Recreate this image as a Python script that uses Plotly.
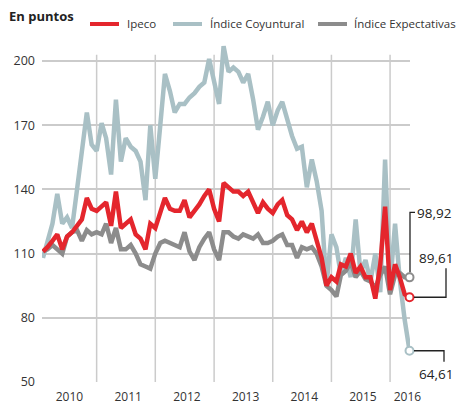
import pandas as pd
import plotly.graph_objects as go

# ---- data (monthly) ----
months = pd.date_range("2010-02-01", periods=76, freq="MS")

ipeco = [111, 113, 116, 119, 112, 118, 120, 123, 126, 136,
         131, 130, 132, 134, 123, 139, 122, 124, 126, 119,
         117, 112, 124, 122, 130, 136, 131, 130, 130, 135,
         127, 130, 133, 137, 140, 131, 125, 143, 141, 139,
         139, 137, 139, 134, 129, 134, 131, 129, 133, 135,
         128, 126, 121, 125, 120, 124, 116, 108, 95, 99,
         97, 105, 104, 110, 101, 104, 99, 99, 89, 105,
         132, 93, 105, 99, 91, 89.61]

coyuntural = [108, 116, 124, 138, 124, 127, 122, 140, 160, 176,
              161, 158, 171, 164, 147, 182, 153, 164, 160, 158,
              153, 135, 170, 145, 170, 194, 186, 176, 180, 180,
              183, 185, 188, 190, 201, 190, 180, 207, 195, 197,
              195, 190, 194, 182, 168, 174, 181, 170, 177, 181,
              172, 165, 159, 160, 141, 154, 144, 130, 95, 119,
              113, 100, 108, 99, 126, 101, 107, 97, 110, 92,
              154, 95, 124, 98, 79, 64.61]

expectativas = [111, 112, 114, 112, 110, 118, 120, 121, 116, 121,
                119, 120, 119, 124, 115, 122, 112, 112, 114, 110,
                105, 104, 103, 110, 115, 116, 115, 114, 113, 120,
                111, 107, 113, 117, 120, 112, 107, 120, 120, 118,
                117, 119, 118, 117, 119, 115, 115, 116, 118, 119,
                114, 114, 108, 113, 112, 113, 110, 104, 95, 93,
                90, 100, 102, 106, 99, 102, 98, 97, 94, 100,
                104, 91, 100, 101, 99, 98.92]

series_names = ["Ipeco", "Índice Coyuntural", "Índice Expectativas"]
year_labels = ["2010", "2011", "2012", "2013", "2014", "2015", "2016"]
year_label_pos = ["2010-07-16", "2011-07-16", "2012-07-16", "2013-07-16",
                  "2014-07-16", "2015-07-16", "2016-04-18"]
year_starts = ["2011-01-01", "2012-01-01", "2013-01-01", "2014-01-01",
               "2015-01-01", "2016-01-01"]
y_ticks = [50, 80, 110, 140, 170, 200]

RED = "#e4262d"
BLUE = "#a9c0c5"
GRAY = "#8c8c8c"
GRID = "#cbcbcb"
TEXT = "#333333"
FONT = "Open Sans"

W, H = 456, 407
ML, MR, MT, MB = 42, 46, 44, 25
PW, PH = W - ML - MR, H - MT - MB


def px_x(px):
    return (px - ML) / PW


def px_y(py):
    return (H - MB - py) / PH


def fmt(v):
    return f"{v:.2f}".replace(".", ",")


fig = go.Figure()

# draw order: coyuntural (back), expectativas, ipeco (front)
fig.add_trace(go.Scatter(x=months, y=coyuntural, mode="lines", name=series_names[1],
                         line=dict(color=BLUE, width=4.5)))
fig.add_trace(go.Scatter(x=months, y=expectativas, mode="lines", name=series_names[2],
                         line=dict(color=GRAY, width=4.5)))
fig.add_trace(go.Scatter(x=months, y=ipeco, mode="lines", name=series_names[0],
                         line=dict(color=RED, width=4.5)))

# end markers
for ser, col in [(coyuntural, BLUE), (expectativas, GRAY), (ipeco, RED)]:
    fig.add_trace(go.Scatter(x=[months[-1]], y=[ser[-1]], mode="markers",
                             marker=dict(size=8, color="white", line=dict(color=col, width=2)),
                             showlegend=False, cliponaxis=False, hoverinfo="skip"))

shapes = []
# vertical year gridlines
for d in year_starts:
    shapes.append(dict(type="line", xref="x", yref="y", x0=d, x1=d, y0=50, y1=203,
                       line=dict(color=GRID, width=1.5), layer="below"))

# connectors anchored at the last data points (pixel offsets from plot's right edge)
conn = dict(color="#222222", width=1.3)
for ser, path in [(expectativas, "M 0,5 L 0,65 L 5,65"),
                  (ipeco, "M 4,0 L 36,0 L 36,29"),
                  (coyuntural, "M 4,0 L 34,0 L 34,-11")]:
    shapes.append(dict(type="path", xref="paper", yref="y", xsizemode="pixel",
                       ysizemode="pixel", xanchor=1, yanchor=ser[-1], path=path,
                       line=conn))

# manual legend (line samples + labels) in the header
legend_items = [(series_names[0], RED, 90, 125),
                (series_names[1], BLUE, 173, 208),
                (series_names[2], GRAY, 318, 352)]
annotations = []
for name, col, lx, tx in legend_items:
    shapes.append(dict(type="line", xref="paper", yref="paper",
                       x0=px_x(lx), x1=px_x(lx + 29), y0=px_y(24), y1=px_y(24),
                       line=dict(color=col, width=4)))
    annotations.append(dict(text=name, xref="paper", yref="paper", x=px_x(tx), y=px_y(24),
                            xanchor="left", yanchor="middle", showarrow=False,
                            font=dict(family=FONT, size=11.5, color=TEXT)))

annotations.append(dict(text="<b>En puntos</b>", xref="paper", yref="paper",
                        x=px_x(7), y=px_y(16), xanchor="left", yanchor="middle",
                        showarrow=False, font=dict(family=FONT, size=13, color="#222")))

for ser, xs, ys in [(expectativas, 5, 64), (ipeco, 7, 39), (coyuntural, 7, -23)]:
    annotations.append(dict(text=fmt(ser[-1]), x=1, y=ser[-1], xref="paper", yref="y",
                            xanchor="left", yanchor="middle", xshift=xs, yshift=ys,
                            showarrow=False, font=dict(family=FONT, size=13.5, color="#222")))

fig.update_layout(
    width=W, height=H,
    margin=dict(l=ML, r=MR, t=MT, b=MB, autoexpand=False),
    paper_bgcolor="white", plot_bgcolor="white",
    font=dict(family=FONT, size=12.5, color=TEXT),
    showlegend=False,
    shapes=shapes,
    annotations=annotations,
    hovermode=False,
)
fig.update_xaxes(range=["2010-01-26", "2016-05-04"], tickmode="array",
                 tickvals=year_label_pos, ticktext=year_labels, showgrid=False,
                 zeroline=False, showline=False, ticks="", ticklabelstandoff=6,
                 tickfont=dict(family=FONT, size=12, color=TEXT))
fig.update_yaxes(range=[50, 208], tickmode="array", tickvals=y_ticks,
                 showgrid=True, gridcolor=GRID, gridwidth=1.5, zeroline=False,
                 showline=False, ticks="", ticklabelstandoff=6,
                 tickfont=dict(family=FONT, size=12.5, color=TEXT))

fig.write_html("out.html", config={"displayModeBar": False},
               post_script="document.body.style.margin='0';document.body.style.overflow='hidden';")
